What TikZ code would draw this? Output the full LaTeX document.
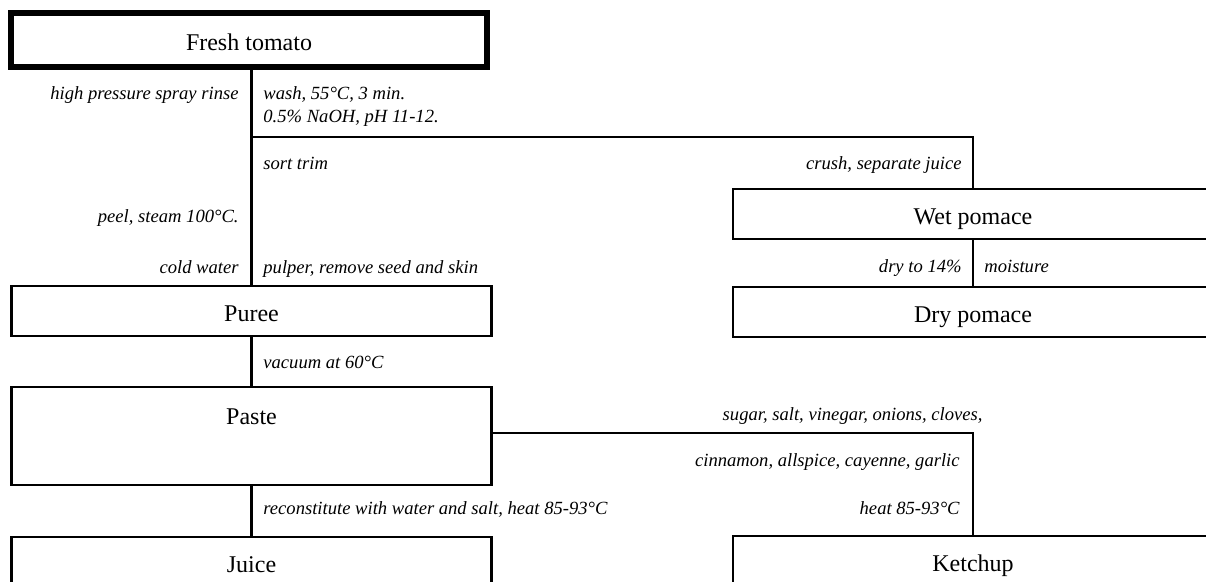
\documentclass[tikz,border=0pt]{standalone}
\usepackage{fontspec}
\setmainfont{Liberation Serif}
\usetikzlibrary{positioning}
\tikzset{
	stage/.style={draw, line width=1.2pt, minimum width=240pt, minimum height=25pt, inner sep=0pt, text height=11pt, text depth=0.6pt, font=\fontsize{12}{14}\selectfont},
	source/.style={stage, line width=3pt, minimum width=238pt, minimum height=27pt},
	note/.style={inner sep=0pt, font=\fontsize{9.3}{12}\selectfont\itshape},
	flow/.style={line width=1.2pt}
}

\begin{document}
\begin{tikzpicture}[x=0.5pt, y=-0.5pt]
			%%%%% START %%%%%
			\useasboundingbox (0, 0) rectangle (1206, 582);
			
			\node[source] (tomato) at (249, 40) {Fresh tomato};
			\node[stage] (puree) at (251.5, 311) {Puree};
			\node[stage] (wet) at (973, 214) {Wet pomace};
			\node[stage] (dry) at (973, 312) {Dry pomace};
			\node[stage, minimum height=49pt, text depth=22.9pt] (paste) at (251.5, 436) {Paste};
			\node[stage] (juice) at (251.5, 562) {Juice};
			\node[stage] (ketchup) at (973, 561) {Ketchup};
			
			\coordinate (forkA) at (251.5, 137);
			
			\draw[flow] (puree.north |- tomato.south) -- (puree.north);
			\draw[flow] (forkA) -| (wet.north);
			\draw[flow] (wet.south) -- (dry.north);
			\draw[flow] (puree.south) -- (paste.north);
			\draw[flow] (paste.south) -- (juice.north);
			\draw[flow] ([yshift=1.5pt]paste.east) -| (ketchup.north);
			
			\node[note, anchor=base east] (rinse) at (239, 100) {high pressure spray rinse};
			\node[note, anchor=base west] (wash) at (263, 100) {wash, 55°C, 3 min.};
			\node[note, anchor=base west] (naoh) at (263, 123) {0.5\% NaOH, pH 11-12.};
			\node[note, anchor=base west] (sort) at (263, 170) {sort trim};
			\node[note, anchor=base east] (crush) at (962, 170) {crush, separate juice};
			\node[note, anchor=base east] (peel) at (239, 223) {peel, steam 100°C.};
			\node[note, anchor=base east] (cold) at (239, 274) {cold water};
			\node[note, anchor=base west] (pulper) at (263, 274) {pulper, remove seed and skin};
			\node[note, anchor=base east] (drying) at (962, 273) {dry to 14\%};
			\node[note, anchor=base west] (moist) at (984, 273) {moisture};
			\node[note, anchor=base west] (vacuum) at (263, 369) {vacuum at 60°C};
			
			\node[note, anchor=base east] (spices) at (983, 421) {sugar, salt, vinegar, onions, cloves,};
			\node[note, anchor=base east] (spicesb) at (960, 467) {cinnamon, allspice, cayenne, garlic};
			\node[note, anchor=base west] (recon) at (263, 515) {reconstitute with water and salt, heat 85-93°C};
			\node[note, anchor=base east] (heat) at (960, 515) {heat 85-93°C};
			
			%%%%% END %%%%%
\end{tikzpicture}
\end{document}
